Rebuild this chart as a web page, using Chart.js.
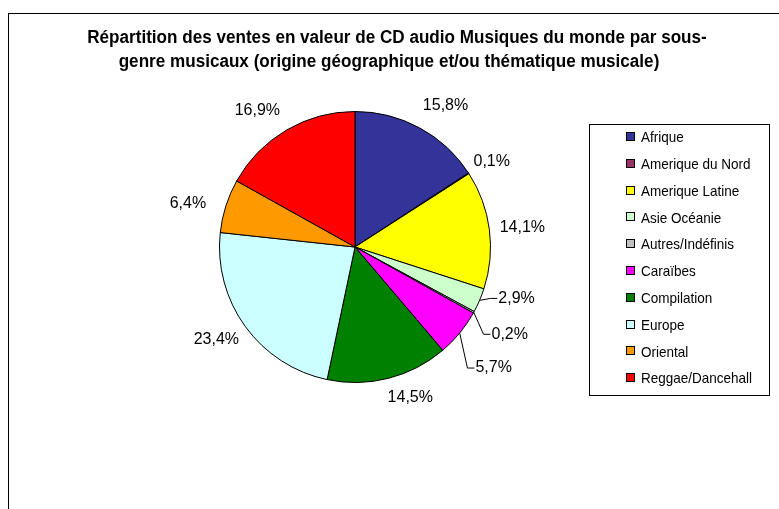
<!DOCTYPE html>
<html>
<head>
<meta charset="utf-8">
<script src="https://cdn.jsdelivr.net/npm/chart.js@4.4.1/dist/chart.umd.min.js"></script>
<style>
    html, body { margin: 0; padding: 0; background: #fff; }
    #wrap { width: 779px; height: 509px; }
</style>
</head>
<body>
<div id="wrap"><canvas id="pieChart"></canvas></div>
<script>
const titleLines = [
    'Répartition des ventes en valeur de CD audio Musiques du monde par sous-',
    'genre musicaux (origine géographique et/ou thématique musicale)'
];
const categories = ['Afrique', 'Amerique du Nord', 'Amerique Latine', 'Asie Océanie', 'Autres/Indéfinis',
    'Caraïbes', 'Compilation', 'Europe', 'Oriental', 'Reggae/Dancehall'];
const shares = [15.8, 0.1, 14.1, 2.9, 0.2, 5.7, 14.5, 23.4, 6.4, 16.9];
const sliceColors = ['#333399', '#993366', '#FFFF00', '#CCFFCC', '#C0C0C0',
    '#FF00FF', '#008000', '#CCFFFF', '#FF9900', '#FF0000'];

// where each percentage sits, relative to the edge of its slice
const labelOffsets = [[26, -22], [23, -12], [33, -2], [37, -2], [36, 22], [34, 35], [22, 19], [-29, 13], [-38, -2], [-29, -20]];
const hasLeader = [false, false, false, true, true, true, false, false, false, false];

const font = "'Liberation Sans', Arial, sans-serif";

// condensed text, the original uses a narrow face
function narrowText(ctx, text, x, y, squeeze) {
    ctx.save();
    ctx.translate(x, y);
    ctx.scale(squeeze, 1);
    ctx.fillText(text, 0, 0);
    ctx.restore();
}

const decorPlugin = {
    id: 'decor',
    beforeDraw(chart) {
        const ctx = chart.ctx;
        ctx.save();
        ctx.fillStyle = '#fff';
        ctx.fillRect(0, 0, chart.width, chart.height);
        ctx.strokeStyle = '#000';
        ctx.lineWidth = 1;
        ctx.strokeRect(8.5, 13.5, chart.width + 10, chart.height + 10);
        ctx.restore();
    },
    afterDraw(chart) {
        const ctx = chart.ctx;
        ctx.save();

        // title
        ctx.fillStyle = '#000';
        ctx.textAlign = 'center';
        ctx.textBaseline = 'middle';
        ctx.font = 'bold 18px ' + font;
        narrowText(ctx, titleLines[0], 397, 38, 0.95);
        narrowText(ctx, titleLines[1], 389, 62, 0.95);

        // percentage labels
        const meta = chart.getDatasetMeta(0);
        ctx.font = '16px ' + font;
        meta.data.forEach((arc, i) => {
            const p = arc.getProps(['x', 'y', 'startAngle', 'endAngle', 'outerRadius'], true);
            const mid = (p.startAngle + p.endAngle) / 2;
            const ex = p.x + Math.cos(mid) * p.outerRadius;
            const ey = p.y + Math.sin(mid) * p.outerRadius;
            const text = shares[i].toFixed(1).replace('.', ',') + '%';
            const cx = ex + labelOffsets[i][0];
            const cy = ey + labelOffsets[i][1];
            const w = ctx.measureText(text).width;
            if (hasLeader[i]) {
                const left = cx - w / 2;
                ctx.beginPath();
                ctx.moveTo(ex, ey);
                ctx.lineTo(left - 8, cy);
                ctx.lineTo(left - 1, cy);
                ctx.strokeStyle = '#000';
                ctx.lineWidth = 1;
                ctx.stroke();
            }
            ctx.fillText(text, cx, cy);
        });

        // legend
        ctx.strokeStyle = '#000';
        ctx.lineWidth = 1;
        ctx.strokeRect(589.5, 124.5, 180, 271);
        ctx.font = '15px ' + font;
        ctx.textAlign = 'left';
        categories.forEach((name, i) => {
            const y = 137 + i * 26.8;
            ctx.fillStyle = sliceColors[i];
            ctx.fillRect(626.5, Math.round(y) - 4.5, 8, 8);
            ctx.strokeRect(626.5, Math.round(y) - 4.5, 8, 8);
            ctx.fillStyle = '#000';
            narrowText(ctx, name, 641, y + 1, 0.9);
        });
        ctx.restore();
    }
};

new Chart(document.getElementById('pieChart'), {
    type: 'pie',
    data: {
        labels: categories,
        datasets: [{
            data: shares,
            backgroundColor: sliceColors,
            borderColor: '#000',
            borderWidth: 1
        }]
    },
    options: {
        responsive: true,
        maintainAspectRatio: false,
        animation: false,
        layout: { padding: { left: 219, right: 288, top: 111, bottom: 126 } },
        plugins: {
            legend: { display: false },
            title: { display: false },
            tooltip: { enabled: false }
        }
    },
    plugins: [decorPlugin]
});
</script>
</body>
</html>
